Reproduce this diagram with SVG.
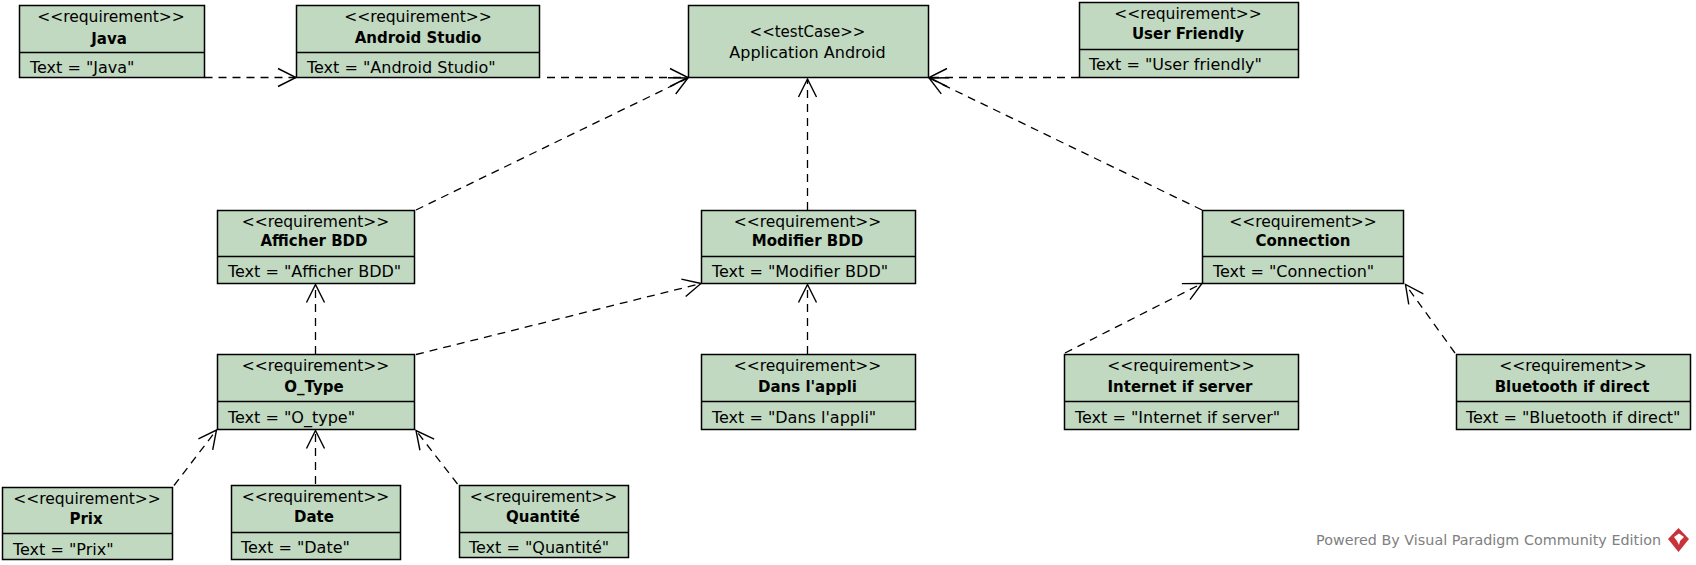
<svg xmlns="http://www.w3.org/2000/svg" width="1696" height="565" viewBox="0 0 1696 565">
<style>
text{font-family:"DejaVu Sans",sans-serif;font-size:16px;fill:#000}
.m{text-anchor:middle}
.s{font-size:15.5px}
.b{font-weight:bold;font-size:15px}
.n{fill:#c0d9c0;stroke:#000;stroke-width:1.5}
.d{stroke:#000;stroke-width:1.5;fill:none}
.c{fill:none;stroke:#000;stroke-width:1.3;stroke-dasharray:8 6;marker-end:url(#a)}
</style>
<defs>
<marker id="a" markerUnits="userSpaceOnUse" markerWidth="24" markerHeight="24" refX="20" refY="12" orient="auto" overflow="visible"><path d="M2 3L20 12L2 21" fill="none" stroke="#000" stroke-width="1.4"/></marker>
</defs>
<rect width="1696" height="565" fill="#fff"/>
<g id="connectors">
<path class="c" d="M204.5 77.5H296"/>
<path class="c" d="M547 77.5H688"/>
<path class="c" d="M416 210L688 78"/>
<path class="c" d="M315.5 354V284.5"/>
<path class="c" d="M416 354.5L701 283.5"/>
<path class="c" d="M807.5 210V79"/>
<path class="c" d="M1202 210L929 78"/>
<path class="c" d="M1079 77.5H929"/>
<path class="c" d="M807.5 354V284.5"/>
<path class="c" d="M1065 353L1202 283.5"/>
<path class="c" d="M1455 353L1405.5 284.5"/>
<path class="c" d="M174 485.5L216.5 430"/>
<path class="c" d="M315.5 484V430.5"/>
<path class="c" d="M457.5 484L416 430.5"/>
</g>
<g id="java"><rect class="n" x="19.5" y="5.5" width="185" height="72"/><path class="d" d="M19.5 52.5H204.5"/><text class="m s" x="111" y="22">&lt;&lt;requirement&gt;&gt;</text><text class="m b" x="109" y="44">Java</text><text x="30" y="72.5">Text = "Java"</text></g>
<g id="android-studio"><rect class="n" x="296.5" y="5.5" width="243" height="72"/><path class="d" d="M296.5 52.5H539.5"/><text class="m s" x="418" y="22">&lt;&lt;requirement&gt;&gt;</text><text class="m b" x="418" y="43">Android Studio</text><text x="307" y="72.5">Text = "Android Studio"</text></g>
<g id="application-android"><rect class="n" x="688.5" y="5.5" width="240" height="72"/><text class="m" x="807.5" y="37" style="font-size:15px">&lt;&lt;testCase&gt;&gt;</text><text class="m" x="807.5" y="58">Application Android</text></g>
<g id="user-friendly"><rect class="n" x="1079.5" y="2.5" width="219" height="75"/><path class="d" d="M1079.5 49.5H1298.5"/><text class="m s" x="1188" y="19">&lt;&lt;requirement&gt;&gt;</text><text class="m b" x="1188" y="39">User Friendly</text><text x="1089" y="69.5">Text = "User friendly"</text></g>
<g id="afficher-bdd"><rect class="n" x="217.5" y="210.5" width="197" height="73"/><path class="d" d="M217.5 256.5H414.5"/><text class="m s" x="315.5" y="227">&lt;&lt;requirement&gt;&gt;</text><text class="m b" x="314" y="246">Afficher BDD</text><text x="228" y="276.5">Text = "Afficher BDD"</text></g>
<g id="modifier-bdd"><rect class="n" x="701.5" y="210.5" width="214" height="73"/><path class="d" d="M701.5 256.5H915.5"/><text class="m s" x="807.5" y="227">&lt;&lt;requirement&gt;&gt;</text><text class="m b" x="807.5" y="246">Modifier BDD</text><text x="712" y="276.5">Text = "Modifier BDD"</text></g>
<g id="connection"><rect class="n" x="1202.5" y="210.5" width="201" height="73"/><path class="d" d="M1202.5 256.5H1403.5"/><text class="m s" x="1303" y="227">&lt;&lt;requirement&gt;&gt;</text><text class="m b" x="1303" y="246">Connection</text><text x="1213" y="276.5">Text = "Connection"</text></g>
<g id="o-type"><rect class="n" x="217.5" y="354.5" width="197" height="75"/><path class="d" d="M217.5 401.5H414.5"/><text class="m s" x="315.5" y="371">&lt;&lt;requirement&gt;&gt;</text><text class="m b" x="314" y="392">O_Type</text><text x="228" y="422.5">Text = "O_type"</text></g>
<g id="dans-l-appli"><rect class="n" x="701.5" y="354.5" width="214" height="75"/><path class="d" d="M701.5 401.5H915.5"/><text class="m s" x="807.5" y="371">&lt;&lt;requirement&gt;&gt;</text><text class="m b" x="807.5" y="392">Dans l'appli</text><text x="712" y="422.5">Text = "Dans l'appli"</text></g>
<g id="internet-if-server"><rect class="n" x="1064.5" y="354.5" width="234" height="75"/><path class="d" d="M1064.5 401.5H1298.5"/><text class="m s" x="1181" y="371">&lt;&lt;requirement&gt;&gt;</text><text class="m b" x="1180" y="392">Internet if server</text><text x="1075" y="422.5">Text = "Internet if server"</text></g>
<g id="bluetooth-if-direct"><rect class="n" x="1456.5" y="354.5" width="234" height="75"/><path class="d" d="M1456.5 401.5H1690.5"/><text class="m s" x="1573" y="371">&lt;&lt;requirement&gt;&gt;</text><text class="m b" x="1572" y="392">Bluetooth if direct</text><text x="1466" y="422.5">Text = "Bluetooth if direct"</text></g>
<g id="prix"><rect class="n" x="2.5" y="487.5" width="170" height="72"/><path class="d" d="M2.5 533.5H172.5"/><text class="m s" x="87" y="504">&lt;&lt;requirement&gt;&gt;</text><text class="m b" x="86" y="524">Prix</text><text x="13" y="554.5">Text = "Prix"</text></g>
<g id="date"><rect class="n" x="231.5" y="485.5" width="169" height="74"/><path class="d" d="M231.5 532.5H400.5"/><text class="m s" x="315.5" y="502">&lt;&lt;requirement&gt;&gt;</text><text class="m b" x="314" y="522">Date</text><text x="241" y="552.5">Text = "Date"</text></g>
<g id="quantite"><rect class="n" x="459.5" y="485.5" width="169" height="72"/><path class="d" d="M459.5 532.5H628.5"/><text class="m s" x="543.5" y="502">&lt;&lt;requirement&gt;&gt;</text><text class="m b" x="543" y="522">Quantité</text><text x="469" y="552.5">Text = "Quantité"</text></g>
<text x="1316" y="545" style="font-size:14px;fill:#808080" textLength="345" lengthAdjust="spacingAndGlyphs">Powered By Visual Paradigm Community Edition</text>
<path d="M1678.5 528L1689 539L1678.5 552L1668 539Z" fill="#c8323a"/><path d="M1679 533.5L1684 537L1680 541L1679 545L1677 541L1674 537Z" fill="#fff"/>
</svg>
